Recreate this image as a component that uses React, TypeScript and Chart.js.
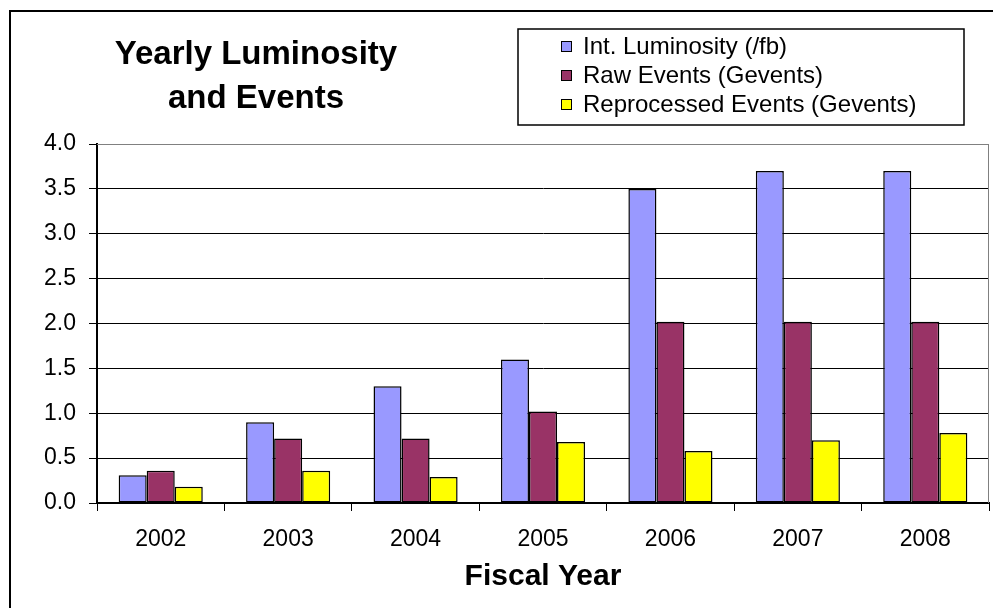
import React, { useEffect, useRef } from "react";
import { Chart, registerables } from "chart.js";

Chart.register(...registerables);

// Fiscal years on the category axis
const years = ["2002", "2003", "2004", "2005", "2006", "2007", "2008"];

// Series values
const luminosity = [0.31, 0.9, 1.3, 1.6, 3.5, 3.7, 3.7];
const rawEvents = [0.36, 0.72, 0.72, 1.02, 2.02, 2.02, 2.02];
const reprocessedEvents = [0.18, 0.36, 0.29, 0.68, 0.58, 0.7, 0.78];

// Series names
const seriesNames = [
  "Int. Luminosity (/fb)",
  "Raw Events (Gevents)",
  "Reprocessed Events (Gevents)",
];

const titleLines = ["Yearly Luminosity", "and Events"];
const xAxisTitle = "Fiscal Year";

const FONT = "'Liberation Sans', Arial, sans-serif";

// Outer frame, title block, legend box and plot-area outline
const decorations = {
  id: "decorations",
  beforeDraw(chart: any) {
    const { ctx, width, height } = chart;
    ctx.save();
    ctx.fillStyle = "#ffffff";
    ctx.fillRect(0, 0, width, height);
    ctx.strokeStyle = "#000000";
    ctx.lineWidth = 2;
    ctx.beginPath();
    ctx.moveTo(10, height + 5);
    ctx.lineTo(10, 11);
    ctx.lineTo(width + 5, 11);
    ctx.stroke();
    ctx.restore();
  },
  afterDraw(chart: any) {
    const { ctx, chartArea } = chart;
    ctx.save();

    // plot-area outline (top and right edges)
    ctx.strokeStyle = "#808080";
    ctx.lineWidth = 1;
    ctx.beginPath();
    ctx.moveTo(chartArea.left, chartArea.top + 0.5);
    ctx.lineTo(chartArea.right - 0.5, chartArea.top + 0.5);
    ctx.lineTo(chartArea.right - 0.5, chartArea.bottom);
    ctx.stroke();

    // title
    ctx.fillStyle = "#000000";
    ctx.font = `bold 33px ${FONT}`;
    ctx.textAlign = "center";
    ctx.textBaseline = "alphabetic";
    ctx.fillText(titleLines[0], 256, 64);
    ctx.fillText(titleLines[1], 256, 108);

    // legend
    const box = { x: 518, y: 29, w: 446, h: 96 };
    ctx.lineWidth = 1.5;
    ctx.strokeStyle = "#000000";
    ctx.strokeRect(box.x, box.y, box.w, box.h);
    ctx.font = `24px ${FONT}`;
    ctx.textAlign = "left";
    ctx.textBaseline = "middle";
    chart.data.datasets.forEach((ds: any, i: number) => {
      const cy = 46 + i * 29;
      ctx.fillStyle = ds.backgroundColor;
      ctx.fillRect(561, cy - 5, 11, 11);
      ctx.lineWidth = 1;
      ctx.strokeStyle = "#000000";
      ctx.strokeRect(561.5, cy - 4.5, 10, 10);
      ctx.fillStyle = "#000000";
      ctx.fillText(ds.label, 583, cy + 1);
    });
    ctx.restore();
  },
};

export default function App() {
  const canvasRef = useRef<HTMLCanvasElement | null>(null);

  useEffect(() => {
    if (!canvasRef.current) return;
    const barStyle = { borderColor: "#000000", borderWidth: 1.5, borderSkipped: false as const };
    const chart = new Chart(canvasRef.current, {
      type: "bar",
      data: {
        labels: years,
        datasets: [
          { label: seriesNames[0], data: luminosity, backgroundColor: "#9999FF", ...barStyle },
          { label: seriesNames[1], data: rawEvents, backgroundColor: "#993366", ...barStyle },
          { label: seriesNames[2], data: reprocessedEvents, backgroundColor: "#FFFF00", ...barStyle },
        ],
      },
      options: {
        responsive: false,
        maintainAspectRatio: false,
        animation: false,
        devicePixelRatio: 1,
        layout: { padding: { left: 0, right: 4, top: 144, bottom: 0 } },
        datasets: { bar: { categoryPercentage: 0.66, barPercentage: 1 } },
        plugins: {
          legend: { display: false },
          title: { display: false },
          tooltip: { enabled: false },
        },
        scales: {
          x: {
            afterFit: (scale: any) => {
              scale.height = 105;
            },
            grid: {
              offset: true,
              drawOnChartArea: false,
              drawTicks: true,
              tickLength: 8,
              color: "#000000",
              lineWidth: 1,
            },
            border: { display: true, color: "#000000", width: 2 },
            ticks: {
              color: "#000000",
              font: { family: FONT, size: 23 },
              padding: 15,
            },
            title: {
              display: true,
              text: xAxisTitle,
              color: "#000000",
              font: { family: FONT, size: 30, weight: "bold" },
              padding: { top: 0, bottom: 13 },
            },
          },
          y: {
            min: 0,
            max: 4,
            afterFit: (scale: any) => {
              scale.width = 97;
            },
            grid: {
              color: (c: any) => (c.tick && c.tick.value === 4 ? "#808080" : "#000000"),
              tickColor: "#000000",
              lineWidth: 1,
              tickLength: 8,
            },
            border: { display: true, color: "#000000", width: 2 },
            ticks: {
              stepSize: 0.5,
              color: "#000000",
              font: { family: FONT, size: 23 },
              padding: 13,
              callback: (v: any) => Number(v).toFixed(1),
            },
          },
        },
      },
      plugins: [decorations],
    });
    return () => chart.destroy();
  }, []);

  return (
    <div style={{ position: "fixed", left: 0, top: 0, width: 993, height: 608, background: "#fff" }}>
      <canvas ref={canvasRef} width={993} height={608} style={{ display: "block" }} />
    </div>
  );
}
